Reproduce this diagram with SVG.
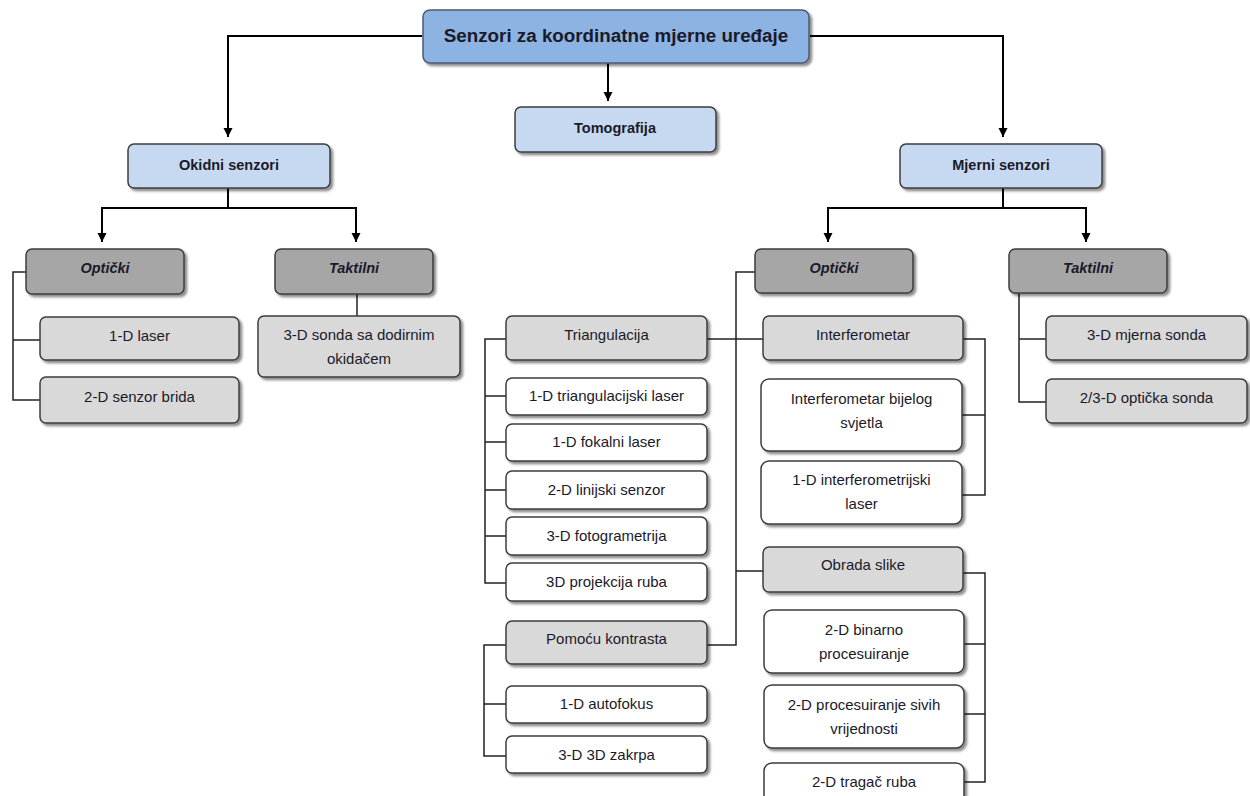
<svg xmlns="http://www.w3.org/2000/svg" width="1250" height="796" viewBox="0 0 1250 796">
<style>
text{font-family:"Liberation Sans",Arial,sans-serif;font-size:15px;fill:#1a1a2a;text-anchor:middle}
.b{font-weight:bold;font-size:14.5px}
.bi{font-weight:bold;font-style:italic;font-size:14.5px}
.box{stroke:#3c3c3c;stroke-width:1.5;filter:url(#sh)}
.root{fill:#8DB3E2;stroke:#4a5a70}
.lb{fill:#C6D9F1}
.dg{fill:#A6A6A6}
.lg{fill:#D9D9D9}
.wh{fill:#FFFFFF}
.c{fill:none;stroke:#222;stroke-width:1.5}
.ca{fill:none;stroke:#000;stroke-width:2}
</style>
<defs>
<filter id="sh" x="-10%" y="-10%" width="125%" height="135%">
<feDropShadow dx="2.5" dy="2.5" stdDeviation="1.2" flood-color="#000" flood-opacity="0.45"/>
</filter>
<marker id="ad" markerUnits="userSpaceOnUse" markerWidth="10" markerHeight="11" refX="10" refY="5" orient="auto" viewBox="0 0 11 10">
<path d="M0,0 L10,5 L0,10 Z" fill="#000"/>
</marker>
</defs>

<g id="connectors">
<path class="ca" d="M422 36 H228 V137" marker-end="url(#ad)"/>
<path class="ca" d="M810 36 H1003 V137" marker-end="url(#ad)"/>
<path class="ca" d="M608 63 V101" marker-end="url(#ad)"/>
<path class="ca" d="M228 188 V208 M102 208 H356"/>
<path class="ca" d="M102 207 V242" marker-end="url(#ad)"/>
<path class="ca" d="M356 207 V242" marker-end="url(#ad)"/>
<path class="ca" d="M1003 188 V208 M828 208 H1086"/>
<path class="ca" d="M828 207 V242" marker-end="url(#ad)"/>
<path class="ca" d="M1086 207 V242" marker-end="url(#ad)"/>
<path class="c" d="M26 272 H13 V400 H40 M13 340 H40"/>
<path class="c" d="M357 294 V316"/>
<path class="c" d="M1019 293 V402 H1046 M1019 339 H1046"/>
<path class="c" d="M755 272 H736 V645 H707 M707 339 H763 M736 571 H763"/>
<path class="c" d="M506 339 H485 V583 H506 M485 396 H506 M485 442 H506 M485 490 H506 M485 536 H506"/>
<path class="c" d="M506 645 H484 V756 H506 M484 704 H506"/>
<path class="c" d="M963 339 H985 V495 H962 M985 415 H962"/>
<path class="c" d="M963 573 H985 V782 H964 M985 644 H964 M985 714 H964"/>
</g>

<g id="root"><rect class="box root" x="423" y="10" width="386" height="53" rx="7"/><text class="b" x="616" y="42" style="font-size:18.8px">Senzori za koordinatne mjerne uređaje</text></g>
<g id="tomografija"><rect class="box lb" x="515" y="107" width="201" height="45" rx="6"/><text class="b" x="615" y="133">Tomografija</text></g>
<g id="okidni"><rect class="box lb" x="128" y="144" width="202" height="44" rx="6"/><text class="b" x="229" y="170">Okidni senzori</text></g>
<g id="mjerni"><rect class="box lb" x="900" y="144" width="202" height="44" rx="6"/><text class="b" x="1001" y="170">Mjerni senzori</text></g>

<g id="opticki-l"><rect class="box dg" x="26" y="249" width="158" height="45" rx="6"/><text class="bi" x="105" y="273">Optički</text></g>
<g id="taktilni-l"><rect class="box dg" x="275" y="249" width="158" height="45" rx="6"/><text class="bi" x="354" y="273">Taktilni</text></g>
<g id="laser1d"><rect class="box lg" x="40" y="317" width="199" height="43" rx="6"/><text x="139.5" y="341">1-D laser</text></g>
<g id="brida"><rect class="box lg" x="40" y="377" width="199" height="46" rx="6"/><text x="139.5" y="402">2-D senzor brida</text></g>
<g id="sonda"><rect class="box lg" x="258" y="316" width="202" height="61" rx="6"/><text x="359" y="340">3-D sonda sa dodirnim</text><text x="359" y="364">okidačem</text></g>

<g id="opticki-r"><rect class="box dg" x="755" y="249" width="158" height="44" rx="6"/><text class="bi" x="834" y="273">Optički</text></g>
<g id="taktilni-r"><rect class="box dg" x="1009" y="249" width="158" height="44" rx="6"/><text class="bi" x="1088" y="273">Taktilni</text></g>
<g id="mjerna-sonda"><rect class="box lg" x="1046" y="316" width="201" height="44" rx="6"/><text x="1146.5" y="340">3-D mjerna sonda</text></g>
<g id="opticka-sonda"><rect class="box lg" x="1046" y="379" width="201" height="44" rx="6"/><text x="1146.5" y="403">2/3-D optička sonda</text></g>

<g id="triangulacija"><rect class="box lg" x="506" y="316" width="201" height="44" rx="6"/><text x="606.5" y="340">Triangulacija</text></g>
<g id="t1"><rect class="box wh" x="506" y="378" width="201" height="37" rx="6"/><text x="606.5" y="401">1-D triangulacijski laser</text></g>
<g id="t2"><rect class="box wh" x="506" y="424" width="201" height="37" rx="6"/><text x="606.5" y="447">1-D fokalni laser</text></g>
<g id="t3"><rect class="box wh" x="506" y="471" width="201" height="38" rx="6"/><text x="606.5" y="495">2-D linijski senzor</text></g>
<g id="t4"><rect class="box wh" x="506" y="517" width="201" height="38" rx="6"/><text x="606.5" y="541">3-D fotogrametrija</text></g>
<g id="t5"><rect class="box wh" x="506" y="563" width="201" height="38" rx="6"/><text x="606.5" y="587">3D projekcija ruba</text></g>
<g id="pomocu"><rect class="box lg" x="506" y="621" width="201" height="43" rx="6"/><text x="606.5" y="644">Pomoću kontrasta</text></g>
<g id="p1"><rect class="box wh" x="506" y="686" width="201" height="37" rx="6"/><text x="606.5" y="709">1-D autofokus</text></g>
<g id="p2"><rect class="box wh" x="506" y="736" width="201" height="37" rx="6"/><text x="606.5" y="760">3-D 3D zakrpa</text></g>

<g id="interferometar"><rect class="box lg" x="763" y="316" width="200" height="44" rx="6"/><text x="863" y="340">Interferometar</text></g>
<g id="i1"><rect class="box wh" x="761" y="379" width="201" height="72" rx="8"/><text x="861.5" y="404">Interferometar bijelog</text><text x="861.5" y="428">svjetla</text></g>
<g id="i2"><rect class="box wh" x="761" y="461" width="201" height="63" rx="8"/><text x="861.5" y="485">1-D interferometrijski</text><text x="861.5" y="509">laser</text></g>

<g id="obrada"><rect class="box lg" x="763" y="547" width="200" height="45" rx="6"/><text x="863" y="570">Obrada slike</text></g>
<g id="o1"><rect class="box wh" x="764" y="610" width="200" height="63" rx="8"/><text x="864" y="635">2-D binarno</text><text x="864" y="659">procesuiranje</text></g>
<g id="o2"><rect class="box wh" x="764" y="685" width="200" height="63" rx="8"/><text x="864" y="710">2-D procesuiranje sivih</text><text x="864" y="734">vrijednosti</text></g>
<g id="o3"><rect class="box wh" x="764" y="763" width="200" height="60" rx="8"/><text x="864" y="787">2-D tragač ruba</text></g>
</svg>
